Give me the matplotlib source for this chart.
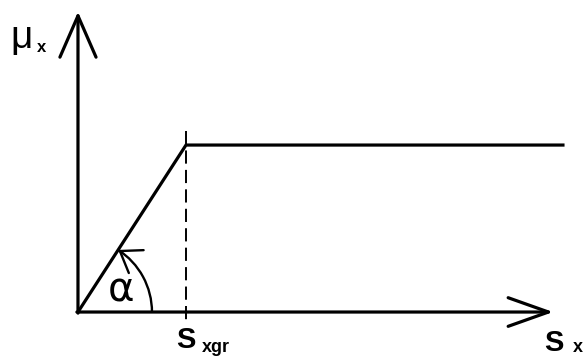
import numpy as np
import matplotlib.pyplot as plt
from matplotlib.patches import Arc

plt.rcParams['lines.scale_dashes'] = False

# characteristic: rises linearly up to S_xgr, then constant
s_vals = [0.0, 1.0, 4.49]        # slip S_x (S_xgr = 1)
mu_vals = [0.0, 1.546, 1.546]    # adhesion coefficient mu_x
s_xgr = s_vals[1]
mu_max = mu_vals[1]

fig = plt.figure(figsize=(5.84, 3.63), dpi=100)
ax = fig.add_axes([0, 0, 1, 1])
ax.set_xlim(-0.722, 4.685)
ax.set_ylim(-0.472, 2.889)
ax.axis('off')

# axes with open arrow heads
ax.annotate('', xy=(4.40, 0), xytext=(-0.01, 0),
            arrowprops=dict(arrowstyle='->,head_length=2.9,head_width=1.03',
                            lw=2.3, color='black', shrinkA=0, shrinkB=0,
                            mutation_scale=10))
ax.annotate('', xy=(0, 2.78), xytext=(0, -0.01),
            arrowprops=dict(arrowstyle='->,head_length=2.98,head_width=1.30',
                            lw=2.3, color='black', shrinkA=0, shrinkB=0,
                            mutation_scale=10))

# curve
ax.plot(s_vals, mu_vals, color='black', lw=2.3, solid_joinstyle='miter')

# dashed marker at S_xgr
ax.plot([s_xgr, s_xgr], [mu_max + 0.13, -0.074], color='black', lw=1.4,
        dashes=(9.5, 4.5))

# angle arc with arrow
r = 0.685
theta = np.degrees(np.arctan2(mu_max, s_xgr))
ax.add_patch(Arc((0, 0), 2 * r, 2 * r, theta1=0, theta2=theta,
                 lw=1.7, color='black'))
t = np.radians(theta)
end = np.array([r * np.cos(t), r * np.sin(t)])
tang = np.array([-np.sin(t), np.cos(t)])
ax.annotate('', xy=end, xytext=end - 0.04 * tang,
            arrowprops=dict(arrowstyle='->,head_length=1.4,head_width=0.98',
                            lw=1.7, color='black', shrinkA=0, shrinkB=0,
                            mutation_scale=10))

# labels
ax.text(-0.63, 2.444, 'μ', fontsize=28, family='Liberation Sans',
        ha='left', va='baseline')
ax.text(-0.38, 2.407, 'x', fontsize=12, fontweight='bold', family='Liberation Sans',
        ha='left', va='baseline')
ax.text(0.40, 0.093, 'α', fontsize=29, family='DejaVu Sans',
        ha='center', va='baseline')
ax.text(0.905, -0.333, 'S', fontsize=21, fontweight='bold', family='Liberation Sans',
        ha='left', va='baseline')
ax.text(1.148, -0.370, 'xgr', fontsize=13, fontweight='bold', family='Liberation Sans',
        ha='left', va='baseline')
ax.text(4.312, -0.361, 'S', fontsize=21, fontweight='bold', family='Liberation Sans',
        ha='left', va='baseline')
ax.text(4.583, -0.370, 'x', fontsize=13, fontweight='bold', family='Liberation Sans',
        ha='left', va='baseline')

fig.savefig('out.png', dpi=100)
